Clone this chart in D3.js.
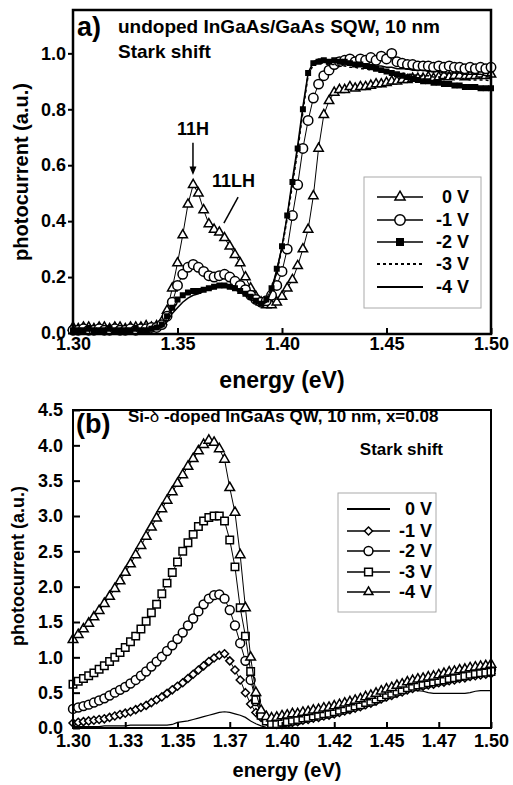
<!DOCTYPE html>
<html>
<head>
<meta charset="utf-8">
<script src="https://cdn.jsdelivr.net/npm/d3@7"></script>
<style>
  body { margin: 0; background: #fff; }
  text { font-family: "Liberation Sans", Arial, sans-serif; font-weight: bold; fill: #000; }
</style>
</head>
<body>
<svg id="chart" width="513" height="785"></svg>
<script>
// energy grid, 2.5 meV step
var energyStart = 1.30;
var energyStep = 0.0025;
var energies = d3.range(81).map(function(i){ return energyStart + i * energyStep; });

// ---- panel a: undoped SQW ----
var voltsA = ['0 V', '-1 V', '-2 V', '-3 V', '-4 V'];
var pcA_0V = [0.02,0.015,0.02,0.02,0.015,0.02,0.02,0.015,0.02,0.02,0.015,0.02,0.02,0.02,0.025,0.02,0.025,
  0.04,0.08,0.16,0.25,0.35,0.46,0.53,0.50,0.44,0.39,0.37,0.36,0.34,0.31,0.28,0.25,0.20,0.16,0.13,0.11,
  0.10,0.10,0.11,0.13,0.16,0.19,0.24,0.30,0.37,0.49,0.66,0.78,0.83,0.86,0.87,0.87,
  0.88,0.875,0.88,0.88,0.885,0.89,0.89,0.895,0.90,0.90,0.905,0.905,0.91,0.91,0.91,0.915,0.91,0.915,0.92,0.915,
  0.92,0.92,0.915,0.92,0.92,0.925,0.92,0.925];
var pcA_1V = [0.01,0.01,0.015,0.01,0.01,0.015,0.01,0.01,0.015,0.01,0.01,0.015,0.01,0.015,0.015,0.02,0.02,
  0.03,0.06,0.11,0.17,0.21,0.235,0.245,0.235,0.22,0.205,0.20,0.205,0.21,0.20,0.185,0.17,0.155,0.135,0.12,0.11,
  0.115,0.135,0.17,0.22,0.30,0.42,0.53,0.66,0.76,0.84,0.89,0.92,0.94,0.96,0.97,0.975,
  0.98,0.97,0.98,0.975,0.985,0.975,0.99,0.98,1.0,0.97,0.965,0.96,0.96,0.955,0.955,0.955,0.95,0.955,0.95,0.955,
  0.95,0.95,0.945,0.95,0.945,0.95,0.945,0.95];
var pcA_2V = [0.01,0.01,0.01,0.015,0.01,0.01,0.01,0.015,0.01,0.01,0.01,0.01,0.015,0.01,0.01,0.015,0.02,
  0.03,0.06,0.09,0.12,0.135,0.145,0.15,0.15,0.155,0.16,0.165,0.17,0.17,0.165,0.16,0.15,0.14,0.13,0.115,0.105,
  0.12,0.16,0.23,0.31,0.42,0.54,0.66,0.80,0.93,0.965,0.97,0.975,0.97,0.975,0.97,0.97,
  0.965,0.96,0.96,0.955,0.95,0.945,0.94,0.935,0.93,0.925,0.92,0.915,0.91,0.905,0.90,0.90,0.895,0.895,0.89,0.89,
  0.885,0.885,0.88,0.88,0.88,0.875,0.875,0.875];
var pcA_3V = [0.01,0.015,0.01,0.01,0.01,0.015,0.01,0.01,0.01,0.015,0.01,0.01,0.01,0.015,0.01,0.015,0.02,
  0.025,0.05,0.085,0.11,0.13,0.14,0.145,0.15,0.155,0.16,0.165,0.17,0.17,0.165,0.16,0.15,0.14,0.125,0.11,0.10,
  0.115,0.15,0.22,0.30,0.41,0.53,0.65,0.79,0.92,0.96,0.965,0.965,0.96,0.96,0.955,0.955,
  0.95,0.95,0.945,0.945,0.94,0.94,0.935,0.935,0.93,0.93,0.93,0.925,0.925,0.92,0.92,0.92,0.915,0.915,0.915,0.91,
  0.91,0.91,0.91,0.905,0.905,0.905,0.905,0.90];
var pcA_4V = [0.01,0.01,0.01,0.01,0.015,0.01,0.01,0.01,0.01,0.01,0.015,0.01,0.01,0.01,0.01,0.015,0.015,
  0.02,0.04,0.07,0.09,0.11,0.125,0.135,0.14,0.15,0.155,0.16,0.165,0.165,0.16,0.155,0.145,0.135,0.12,0.11,0.10,
  0.11,0.15,0.22,0.31,0.42,0.55,0.67,0.81,0.93,0.97,0.98,0.98,0.975,0.975,0.97,0.97,
  0.97,0.965,0.965,0.96,0.96,0.955,0.955,0.95,0.95,0.945,0.945,0.945,0.94,0.94,0.94,0.935,0.935,0.935,0.93,0.93,
  0.93,0.93,0.925,0.925,0.925,0.925,0.92,0.92];
var ticksAX = [1.30, 1.35, 1.40, 1.45, 1.50];
var tickLabelsAX = ['1.30', '1.35', '1.40', '1.45', '1.50'];
var ticksAY = [0, 0.2, 0.4, 0.6, 0.8, 1.0];
var tickLabelsAY = ['0.0', '0.2', '0.4', '0.6', '0.8', '1.0'];

// ---- panel b: Si-delta-doped QW ----
var voltsB = ['0 V', '-1 V', '-2 V', '-3 V', '-4 V'];
var pcB_0V = [0.02,0.02,0.02,0.02,0.02,0.02,0.03,0.03,0.03,0.03,0.03,0.04,0.04,0.04,0.04,0.04,0.04,0.04,0.04,0.05,
  0.08,0.09,0.10,0.12,0.14,0.16,0.18,0.20,0.22,0.23,0.22,0.20,0.18,0.15,0.10,0.06,0.03,0.01,0.0,0.0,
  0.01,0.02,0.04,0.05,0.07,0.09,0.10,0.12,0.13,0.15,0.17,0.19,0.21,0.23,0.26,0.28,0.30,0.33,0.36,0.39,
  0.42,0.45,0.48,0.50,0.52,0.53,0.53,0.52,0.50,0.49,0.49,0.49,0.49,0.49,0.49,0.49,0.50,0.52,0.53,0.53,0.53];
var pcB_1V = [0.07,0.08,0.09,0.10,0.11,0.12,0.13,0.15,0.17,0.19,0.21,0.23,0.26,0.29,0.32,0.36,0.40,0.44,0.49,0.54,
  0.59,0.64,0.70,0.76,0.82,0.88,0.94,0.99,1.03,1.05,0.95,0.82,0.68,0.50,0.34,0.22,0.15,0.10,0.07,0.05,
  0.05,0.06,0.08,0.09,0.11,0.12,0.14,0.15,0.17,0.18,0.20,0.22,0.24,0.26,0.28,0.30,0.33,0.35,0.38,0.41,
  0.44,0.46,0.49,0.51,0.54,0.56,0.58,0.59,0.61,0.62,0.64,0.65,0.67,0.68,0.70,0.71,0.73,0.74,0.75,0.76,0.77];
var pcB_2V = [0.27,0.29,0.31,0.33,0.36,0.39,0.42,0.46,0.50,0.54,0.58,0.63,0.68,0.74,0.80,0.87,0.94,1.01,1.09,1.17,
  1.26,1.35,1.45,1.55,1.65,1.75,1.83,1.88,1.89,1.83,1.67,1.45,1.20,0.95,0.68,0.38,0.20,0.12,0.07,0.07,
  0.10,0.12,0.14,0.15,0.17,0.18,0.20,0.21,0.23,0.24,0.26,0.28,0.30,0.32,0.34,0.36,0.39,0.41,0.44,0.47,
  0.50,0.52,0.55,0.57,0.60,0.62,0.64,0.65,0.67,0.68,0.70,0.71,0.73,0.74,0.76,0.77,0.79,0.80,0.81,0.82,0.83];
var pcB_3V = [0.62,0.66,0.70,0.74,0.78,0.83,0.88,0.94,1.00,1.07,1.14,1.22,1.30,1.40,1.51,1.63,1.75,1.90,2.05,2.20,
  2.35,2.50,2.62,2.74,2.85,2.93,2.98,3.00,3.00,2.93,2.66,2.28,1.70,1.30,0.80,0.40,0.18,0.10,0.06,0.06,
  0.08,0.09,0.11,0.12,0.14,0.15,0.17,0.18,0.20,0.21,0.23,0.25,0.27,0.29,0.31,0.33,0.36,0.38,0.41,0.44,
  0.47,0.49,0.52,0.54,0.57,0.59,0.61,0.62,0.64,0.65,0.67,0.68,0.70,0.71,0.73,0.74,0.76,0.77,0.78,0.79,0.80];
var pcB_4V = [1.25,1.32,1.40,1.48,1.57,1.66,1.76,1.86,1.97,2.08,2.20,2.32,2.45,2.58,2.71,2.84,2.97,3.10,3.22,3.34,
  3.46,3.58,3.70,3.81,3.92,4.01,4.07,4.04,3.95,3.80,3.40,3.05,2.45,1.70,1.00,0.50,0.25,0.16,0.14,0.15,
  0.17,0.18,0.20,0.20,0.22,0.23,0.25,0.26,0.28,0.29,0.31,0.33,0.35,0.37,0.39,0.41,0.44,0.46,0.49,0.52,
  0.55,0.57,0.60,0.62,0.65,0.67,0.69,0.70,0.72,0.73,0.75,0.77,0.79,0.80,0.82,0.83,0.85,0.86,0.87,0.88,0.90];
var ticksBX = [1.300, 1.325, 1.350, 1.375, 1.400, 1.425, 1.450, 1.475, 1.500];
var tickLabelsBX = ['1.30', '1.33', '1.35', '1.37', '1.40', '1.42', '1.45', '1.47', '1.50'];
var ticksBY = [0, 0.5, 1.0, 1.5, 2.0, 2.5, 3.0, 3.5, 4.0, 4.5];
var tickLabelsBY = ['0.0', '0.5', '1.0', '1.5', '2.0', '2.5', '3.0', '3.5', '4.0', '4.5'];

var svg = d3.select('#chart');

var diamond = {
  draw: function(ctx, size){
    var r = Math.sqrt(size) / 2 * 1.3;
    ctx.moveTo(0, -r); ctx.lineTo(r, 0); ctx.lineTo(0, r); ctx.lineTo(-r, 0); ctx.closePath();
  }
};

function drawSeries(g, x, y, s){
  var line = d3.line()
    .x(function(d, i){ return x(energies[i]); })
    .y(function(d){ return y(d); });
  g.append('path')
    .datum(s.values)
    .attr('d', line)
    .attr('fill', 'none')
    .attr('stroke', '#000')
    .attr('stroke-width', s.lineWidth)
    .attr('stroke-dasharray', s.dash || null);
  if(s.symbol){
    g.selectAll(null)
      .data(s.values)
      .enter()
      .append('path')
      .attr('d', d3.symbol().type(s.symbol).size(s.size))
      .attr('transform', function(d, i){ return 'translate(' + x(energies[i]) + ',' + y(d) + ')'; })
      .attr('fill', s.fill)
      .attr('stroke', '#000')
      .attr('stroke-width', 1.5);
  }
}

function drawLegend(g, series, box, rows, lineX, textX, fontSize){
  g.append('rect')
    .attr('x', box[0]).attr('y', box[1]).attr('width', box[2]).attr('height', box[3])
    .attr('fill', '#fff').attr('stroke', '#aaa').attr('stroke-width', 1);
  series.forEach(function(s, i){
    var cy = rows[i];
    g.append('line')
      .attr('x1', lineX[0]).attr('x2', lineX[1]).attr('y1', cy).attr('y2', cy)
      .attr('stroke', '#000').attr('stroke-width', s.legendLineWidth || 1.5)
      .attr('stroke-dasharray', s.dash || null);
    if(s.symbol){
      g.append('path')
        .attr('d', d3.symbol().type(s.symbol).size(s.legendSize || s.size))
        .attr('transform', 'translate(' + ((lineX[0] + lineX[1]) / 2) + ',' + cy + ')')
        .attr('fill', s.fill).attr('stroke', '#000').attr('stroke-width', 1.5);
    }
    g.append('text')
      .attr('x', textX).attr('y', cy + fontSize * 0.36)
      .attr('text-anchor', 'end')
      .style('font-size', fontSize + 'px')
      .text(s.label);
  });
}

// ================= panel a =================
var xA = d3.scaleLinear().domain([1.30, 1.50]).range([73, 491]);
var yA = d3.scaleLinear().domain([0, 1.155]).range([333, 10]);
var gA = svg.append('g');

var seriesA = [
  {label: voltsA[0], values: pcA_0V, symbol: d3.symbolTriangle, size: 38, legendSize: 44, fill: '#fff', lineWidth: 1},
  {label: voltsA[1], values: pcA_1V, symbol: d3.symbolCircle, size: 70, legendSize: 85, fill: '#fff', lineWidth: 1},
  {label: voltsA[2], values: pcA_2V, symbol: d3.symbolSquare, size: 20, legendSize: 42, fill: '#000', lineWidth: 1},
  {label: voltsA[3], values: pcA_3V, symbol: null, fill: 'none', lineWidth: 1.5, dash: '3,3', legendLineWidth: 2},
  {label: voltsA[4], values: pcA_4V, symbol: null, fill: 'none', lineWidth: 1.5, legendLineWidth: 2}
];
seriesA.forEach(function(s){ drawSeries(gA, xA, yA, s); });

var axAX = gA.append('g').attr('transform', 'translate(0,334)')
  .call(d3.axisBottom(xA).tickValues(ticksAX)
    .tickFormat(function(d, i){ return tickLabelsAX[i]; })
    .tickSizeInner(-6).tickSizeOuter(0).tickPadding(3));
var axAY = gA.append('g').attr('transform', 'translate(73,0)')
  .call(d3.axisLeft(yA).tickValues(ticksAY)
    .tickFormat(function(d, i){ return tickLabelsAY[i]; })
    .tickSizeInner(5).tickSizeOuter(0).tickPadding(2));
[axAX, axAY].forEach(function(ax){
  ax.select('.domain').remove();
  ax.selectAll('.tick line').attr('stroke', '#000').attr('stroke-width', 2);
  ax.selectAll('.tick text').style('font-size', '18px').style('font-family', '"Liberation Sans", Arial, sans-serif').style('font-weight', 'bold');
});

gA.append('rect').attr('x', 73).attr('y', 10).attr('width', 418).attr('height', 324)
  .attr('fill', 'none').attr('stroke', '#000').attr('stroke-width', 2.5);

gA.append('text').attr('x', 77).attr('y', 36).style('font-size', '27px').text('a)');
gA.append('text').attr('x', 118).attr('y', 33).style('font-size', '19px').text('undoped InGaAs/GaAs SQW, 10 nm');
gA.append('text').attr('x', 118).attr('y', 58).style('font-size', '19px').text('Stark shift');

// peak labels
gA.append('text').attr('x', xA(1.3574)).attr('y', yA(0.707)).attr('text-anchor', 'middle')
  .style('font-size', '18px').text('11H');
gA.append('line').attr('x1', xA(1.3574)).attr('x2', xA(1.3574)).attr('y1', yA(0.68)).attr('y2', yA(0.59))
  .attr('stroke', '#000').attr('stroke-width', 1.5);
gA.append('path')
  .attr('d', 'M' + (xA(1.3574) - 3.5) + ',' + yA(0.595) + 'L' + (xA(1.3574) + 3.5) + ',' + yA(0.595) + 'L' + xA(1.3574) + ',' + yA(0.565) + 'Z')
  .attr('fill', '#000');
gA.append('text').attr('x', xA(1.3665)).attr('y', yA(0.521)).style('font-size', '18px').text('11LH');
gA.append('line').attr('x1', xA(1.379)).attr('y1', yA(0.486)).attr('x2', xA(1.3722)).attr('y2', yA(0.393))
  .attr('stroke', '#000').attr('stroke-width', 1.5);

gA.append('text').attr('transform', 'translate(28,172) rotate(-90)').attr('text-anchor', 'middle')
  .style('font-size', '20px').text('photocurrent (a.u.)');
gA.append('text').attr('x', 282).attr('y', 388).attr('text-anchor', 'middle')
  .style('font-size', '23px').text('energy (eV)');

drawLegend(gA, seriesA, [364, 177, 117, 131], [197, 220, 242, 264, 287], [377, 423], 469, 18);

// ================= panel b =================
var xB = d3.scaleLinear().domain([1.30, 1.50]).range([73, 491]);
var yB = d3.scaleLinear().domain([0, 4.5]).range([728, 410]);
var gB = svg.append('g');

var seriesB = [
  {label: voltsB[0], values: pcB_0V, symbol: null, fill: 'none', lineWidth: 1.2, legendLineWidth: 2},
  {label: voltsB[1], values: pcB_1V, symbol: diamond, size: 38, legendSize: 38, fill: '#fff', lineWidth: 1},
  {label: voltsB[2], values: pcB_2V, symbol: d3.symbolCircle, size: 62, legendSize: 62, fill: '#fff', lineWidth: 1},
  {label: voltsB[3], values: pcB_3V, symbol: d3.symbolSquare, size: 56, legendSize: 60, fill: '#fff', lineWidth: 1},
  {label: voltsB[4], values: pcB_4V, symbol: d3.symbolTriangle, size: 40, legendSize: 34, fill: '#fff', lineWidth: 1}
];
seriesB.forEach(function(s){ drawSeries(gB, xB, yB, s); });

var axBX = gB.append('g').attr('transform', 'translate(0,728)')
  .call(d3.axisBottom(xB).tickValues(ticksBX)
    .tickFormat(function(d, i){ return tickLabelsBX[i]; })
    .tickSizeInner(-6).tickSizeOuter(0).tickPadding(6));
var axBY = gB.append('g').attr('transform', 'translate(73,0)')
  .call(d3.axisLeft(yB).tickValues(ticksBY)
    .tickFormat(function(d, i){ return tickLabelsBY[i]; })
    .tickSizeInner(-7).tickSizeOuter(0).tickPadding(10));
[axBX, axBY].forEach(function(ax){
  ax.select('.domain').remove();
  ax.selectAll('.tick line').attr('stroke', '#000').attr('stroke-width', 2);
  ax.selectAll('.tick text').style('font-size', '18px').style('font-family', '"Liberation Sans", Arial, sans-serif').style('font-weight', 'bold');
});

gB.append('rect').attr('x', 73).attr('y', 410).attr('width', 418).attr('height', 318)
  .attr('fill', 'none').attr('stroke', '#000').attr('stroke-width', 2);

gB.append('text').attr('x', 76).attr('y', 433).style('font-size', '27px').text('(b)');
var titleB = gB.append('text').attr('x', 128).attr('y', 422).style('font-size', '17px');
titleB.append('tspan').text('Si-');
titleB.append('tspan').style('font-weight', 'normal').text('\u03b4 ');
titleB.append('tspan').text('-doped InGaAs QW, 10 nm, x=0.08');
gB.append('text').attr('x', 443).attr('y', 455).attr('text-anchor', 'end').style('font-size', '17px').text('Stark shift');

gB.append('text').attr('transform', 'translate(24,566) rotate(-90)').attr('text-anchor', 'middle')
  .style('font-size', '18px').text('photocurrent (a.u.)');
gB.append('text').attr('x', 287).attr('y', 777).attr('text-anchor', 'middle')
  .style('font-size', '20px').text('energy (eV)');

drawLegend(gB, seriesB, [338, 493, 98, 119], [509, 531, 551, 572, 592], [347, 390], 432, 18);
</script>
</body>
</html>
